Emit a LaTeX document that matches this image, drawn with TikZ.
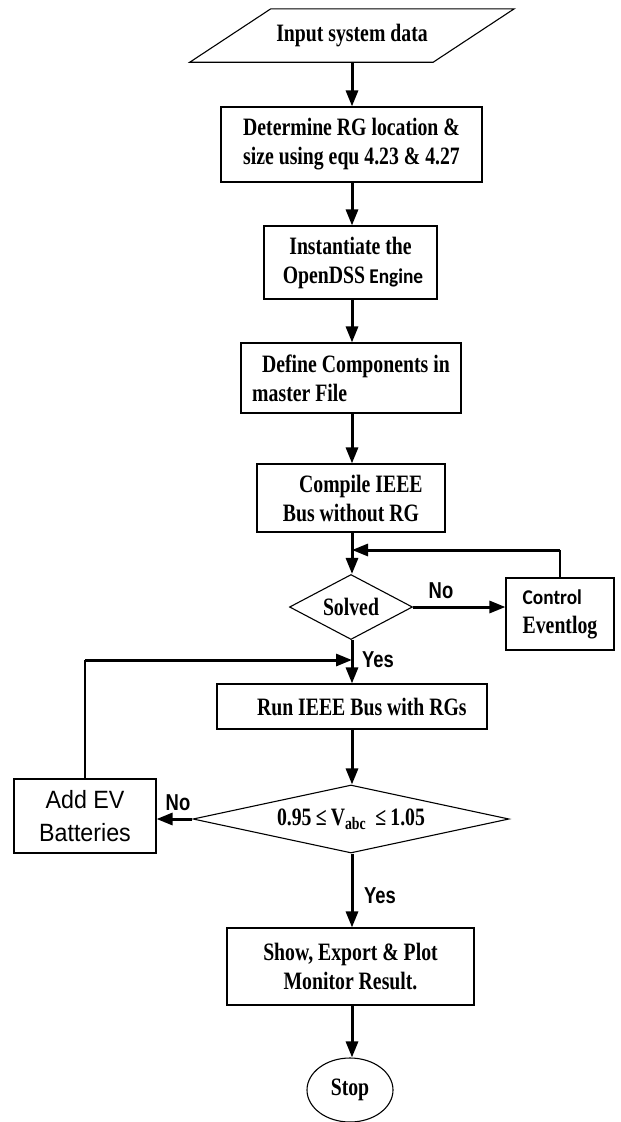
\documentclass[tikz,border=0pt]{standalone}
\usepackage{fontspec}
\usetikzlibrary{arrows.meta,shapes.geometric,calc}

% Fonts: bold serif for the steps, narrow sans for branch labels
\newfontfamily\tnr{Liberation Serif}[FakeStretch=0.79]
\newfontfamily\arb{Liberation Sans}[FakeStretch=0.8]
\newfontfamily\arr{Liberation Sans}[FakeStretch=0.93]
\newfontfamily\clb{Carlito}[FakeStretch=0.92]

\tikzset{
  stepfont/.style={font=\tnr\bfseries\fontsize{25}{29}\selectfont},
  stepbox/.style={draw, line width=1.1pt, rectangle, inner sep=0pt, align=center, stepfont},
  decision/.style={draw, line width=1.1pt, diamond, inner sep=0pt, align=center, stepfont},
  terminal/.style={draw, line width=1.1pt, ellipse, inner sep=0pt, align=center, stepfont},
  flow/.style={line width=3pt, -{Triangle[length=16pt,width=12pt]}},
  backline/.style={line width=1.1pt},
  branch/.style={font=\arb\bfseries\fontsize{23}{26}\selectfont, inner sep=0pt},
}
\newcommand{\calib}[1]{{\clb\bfseries\fontsize{21}{24}\selectfont #1}}

\begin{document}
\begin{tikzpicture}[x=1pt, y=-1pt]
  \useasboundingbox (0,0) rectangle (621,1122);

  % Input (parallelogram drawn around an invisible body node)
  \node[inner sep=0pt, minimum width=162pt, minimum height=53pt, stepfont] (in) at (352,35.5) {Input system data};
  \draw[line width=1.1pt] ($(in.south west)+(-81pt,0)$) -- (in.south east)
        -- ($(in.north east)+(81pt,0)$) -- (in.north west) -- cycle;

  % Process steps
  \node[stepbox, minimum width=261pt, minimum height=75pt] (loc) at (351.5,144.5)
        {Determine RG location \&\\size using equ 4.23 \& 4.27};
  \node[stepbox, minimum width=173pt, minimum height=73pt] (eng) at (350.5,262.5)
        {Instantiate the\\\ OpenDSS\,\calib{Engine}};
  \node[stepbox, minimum width=220pt, minimum height=70pt, align=left] (def) at (351,378)
        {\ \ Define Components in\\master File};
  \node[stepbox, minimum width=188pt, minimum height=68pt] (cmp) at (351,498)
        {\ \ \ \ Compile IEEE\\Bus without RG};
  \node[decision, minimum width=123pt, minimum height=65pt, aspect=1.9] (sol) at (351,607) {Solved};
  \node[stepbox, minimum width=108pt, minimum height=72pt, align=left] (ctl) at (560,614)
        {\calib{Control}\\Eventlog};
  \node[stepbox, minimum width=270pt, minimum height=45pt] (run) at (352,706.5)
        {\ \ \ \ Run IEEE Bus with RGs};
  \node[decision, minimum width=316pt, minimum height=68pt, aspect=4.6] (chk) at (351,819)
        {0.95\,≤\,V\textsubscript{abc}\ \,≤\,1.05};
  \node[stepbox, minimum width=142pt, minimum height=74pt,
        font=\arr\fontsize{25}{33}\selectfont] (ev) at (85,816) {Add EV\\Batteries};
  \node[stepbox, minimum width=247pt, minimum height=77pt] (out) at (350.5,966.5)
        {Show, Export \& Plot\\Monitor Result.};
  \node[terminal, minimum width=86pt, minimum height=64pt] (stop) at (350,1090) {Stop};

  % Junctions where the loops rejoin the main line
  \coordinate (j1) at (352,550);
  \coordinate (j2) at (352,660);

  % Main flow
  \draw[flow] (in.south -| j1) -- (loc.north -| j1);
  \draw[flow] (loc.south -| j1) -- (eng.north -| j1);
  \draw[flow] (eng.south -| j1) -- (def.north -| j1);
  \draw[flow] (def.south -| j1) -- (cmp.north -| j1);
  \draw[flow] (cmp.south -| j1) -- (sol.north -| j1);
  \draw[flow] (sol.south -| j2) -- (run.north -| j2);
  \draw[flow] (run.south -| j2) -- (chk.north -| j2);
  \draw[flow] (chk.south -| j2) -- (out.north -| j2);
  \draw[flow] (out.south -| j2) -- (stop.north -| j2);

  % Solved? No -> control eventlog, back to the test
  \draw[flow] (sol.east) -- (ctl.west |- sol.east);
  \draw[backline] (ctl.north) -- (ctl.north |- j1);
  \draw[flow] (ctl.north |- j1) -- (j1);

  % Voltage check fails -> add EV batteries, back to the run
  \draw[flow] (chk.west) -- (ev.east |- chk.west);
  \draw[backline] (ev.north) -- (ev.north |- j2);
  \draw[flow] (ev.north |- j2) -- (j2);

  % Branch labels
  \node[branch] (no1) at (441,591) {No};
  \node[branch] (yes1) at (378,660) {Yes};
  \node[branch] (no2) at (178,803) {No};
  \node[branch] (yes2) at (380,896) {Yes};
\end{tikzpicture}
\end{document}
